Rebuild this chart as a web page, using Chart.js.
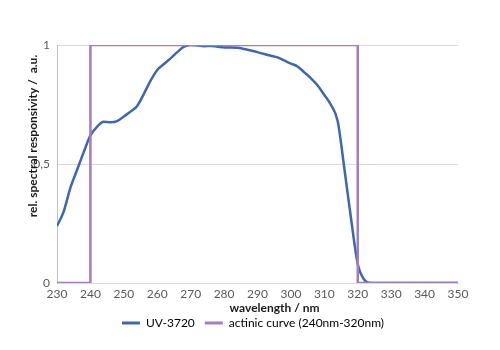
<!DOCTYPE html>
<html>
<head>
<meta charset="utf-8">
<script src="https://cdn.jsdelivr.net/npm/chart.js@4.4.1/dist/chart.umd.min.js"></script>
<style>
  html, body { margin: 0; padding: 0; background: #fff; }
  #wrap { width: 500px; height: 350px; }
</style>
</head>
<body>
<div id="wrap"><canvas id="chart" width="500" height="350"></canvas></div>
<script>
// Relative spectral responsivity of the UV-3720 sensor (wavelength in nm)
const wavelengths = [230, 232, 234, 236, 238, 240, 242, 244, 246, 248, 250, 252, 254, 256, 258, 260,
  262, 264, 266, 268, 270, 272, 274, 276, 278, 280, 282, 284, 286, 288, 290, 292, 294, 296, 298, 300,
  302, 304, 306, 308, 310, 312, 314, 316, 318, 320, 322, 324, 330, 340, 350];
const responsivity = [0.24, 0.30, 0.40, 0.475, 0.55, 0.62, 0.657, 0.678, 0.675, 0.68, 0.70, 0.72, 0.744, 0.795, 0.85, 0.895,
  0.92, 0.944, 0.97, 0.993, 1.0, 0.998, 0.995, 0.996, 0.993, 0.99, 0.99, 0.988, 0.983, 0.977, 0.97, 0.962, 0.955, 0.948, 0.935, 0.922,
  0.91, 0.885, 0.86, 0.83, 0.79, 0.748, 0.68, 0.48, 0.27, 0.08, 0.013, 0.0, 0.0, 0.0, 0.0];

// Actinic weighting curve: rectangular window 240 nm - 320 nm
const actinicWavelengths = [230, 240, 240, 320, 320, 350];
const actinicValues = [0, 0, 1, 1, 0, 0];

// Axis ticks
const xTickStep = 10;
const yTickStep = 0.5;

const seriesNames = ['UV-3720', 'actinic curve (240nm-320nm)'];
const xTitle = 'wavelength / nm';
const yTitle = 'rel. spectral responsivity /  a.u.';

const BLUE = '#3d67ae';
const PURPLE = '#a47cc0';
const FONT = 'Lato, "Open Sans", sans-serif';

const toPoints = (xs, ys) => xs.map((x, i) => ({ x: x, y: ys[i] }));

// Axis titles drawn manually so they can sit off-centre
const axisTitles = {
  id: 'axisTitles',
  afterDraw(chart) {
    const { ctx, chartArea } = chart;
    ctx.save();
    ctx.setTransform(1, 0, 0, 1, 0, 0);
    ctx.fillStyle = '#1a1a1a';
    ctx.font = 'bold 12px ' + FONT;
    ctx.textAlign = 'center';
    ctx.textBaseline = 'middle';
    ctx.fillText(xTitle, (chartArea.left + chartArea.right) / 2 + 17, 308);
    ctx.translate(33, 136);
    ctx.rotate(-Math.PI / 2);
    ctx.fillText(yTitle, 0, 0);
    ctx.restore();
  }
};

new Chart(document.getElementById('chart'), {
  type: 'line',
  data: {
    datasets: [
      {
        label: seriesNames[0],
        data: toPoints(wavelengths, responsivity),
        borderColor: BLUE,
        backgroundColor: BLUE,
        borderWidth: 2.5,
        pointRadius: 0,
        cubicInterpolationMode: 'monotone',
        fill: false,
        order: 1
      },
      {
        label: seriesNames[1],
        data: toPoints(actinicWavelengths, actinicValues),
        borderColor: PURPLE,
        backgroundColor: PURPLE,
        borderWidth: 2.5,
        pointRadius: 0,
        tension: 0,
        fill: false,
        order: 0
      }
    ]
  },
  options: {
    responsive: false,
    animation: false,
    devicePixelRatio: 1,
    layout: { padding: { left: 6, right: 0, top: 45, bottom: 11 } },
    plugins: {
      legend: {
        position: 'bottom',
        labels: {
          color: '#262626',
          font: { family: FONT, size: 12 },
          boxWidth: 18,
          boxHeight: 3,
          padding: 10,
          sort: (a, b) => a.datasetIndex - b.datasetIndex,
          generateLabels(chart) {
            return chart.data.datasets.map((ds, i) => ({
              text: ds.label,
              fillStyle: ds.borderColor,
              strokeStyle: ds.borderColor,
              lineWidth: 0,
              hidden: false,
              datasetIndex: i
            }));
          }
        }
      },
      tooltip: { enabled: false }
    },
    scales: {
      x: {
        type: 'linear',
        min: 230,
        max: 350,
        afterFit(scale) { scale.height = 24; },
        grid: { display: false, drawTicks: false },
        border: { display: true, color: '#d9d9d9', width: 1 },
        ticks: {
          stepSize: xTickStep,
          padding: 4,
          maxRotation: 0,
          color: '#595959',
          font: { family: FONT, size: 12 }
        }
      },
      y: {
        min: 0,
        max: 1,
        afterFit(scale) { scale.width = 51; },
        grid: { color: '#d9d9d9', drawTicks: false },
        border: { display: true, color: '#bfbfbf', width: 1 },
        ticks: {
          stepSize: yTickStep,
          padding: 7,
          color: '#595959',
          font: { family: FONT, size: 12 },
          callback: (v) => String(v).replace('.', ',')
        }
      },
      yRight: {
        position: 'right',
        min: 0,
        max: 1,
        afterFit(scale) { scale.width = 42; },
        grid: { display: false, drawOnChartArea: false },
        border: { display: false },
        ticks: { display: false }
      }
    }
  },
  plugins: [axisTitles]
});
</script>
</body>
</html>
